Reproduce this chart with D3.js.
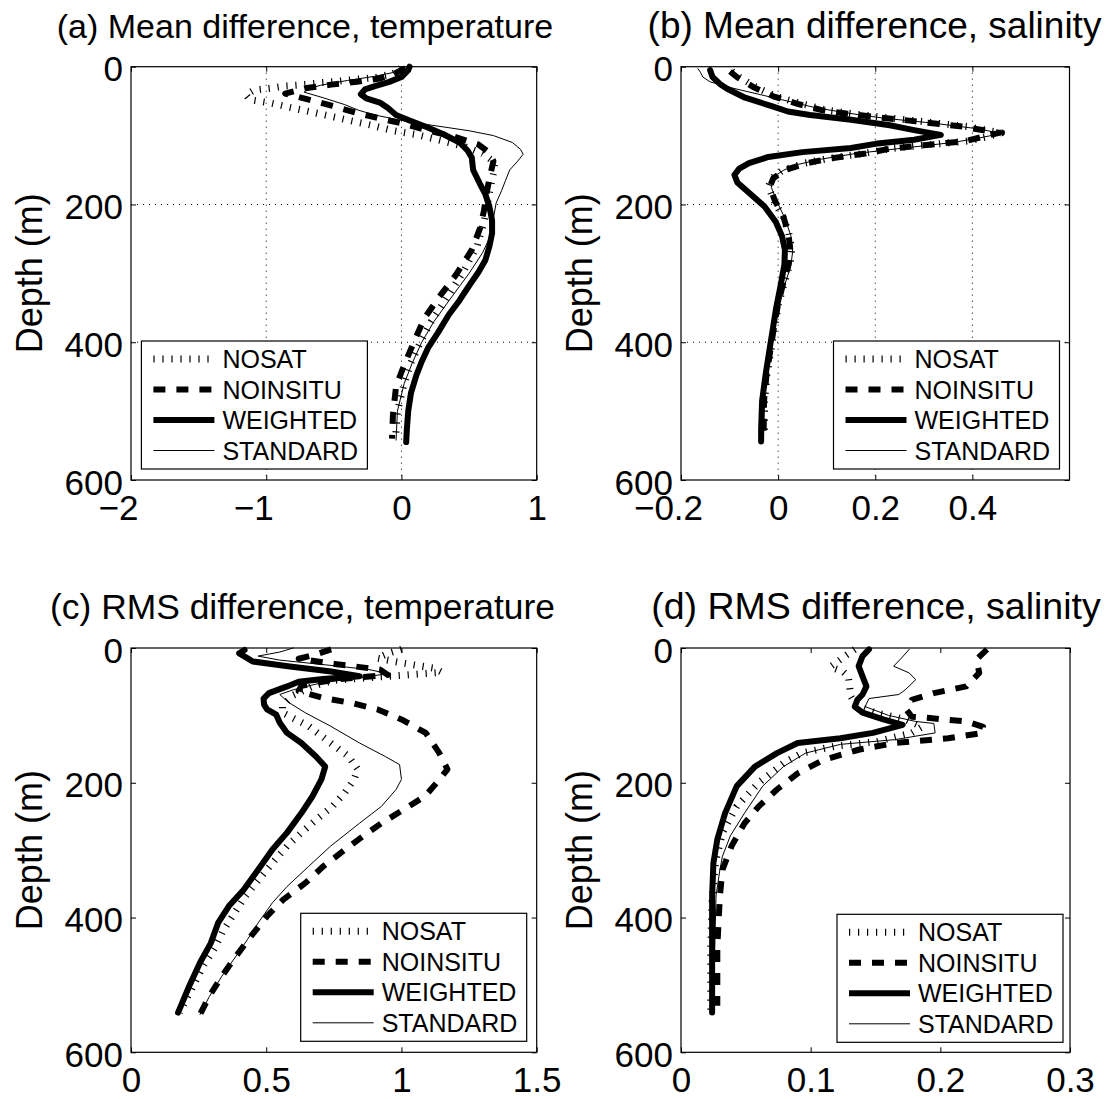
<!DOCTYPE html>
<html>
<head>
<meta charset="utf-8">
<script src="https://cdn.jsdelivr.net/npm/d3@7"></script>
<style>
  html, body { margin: 0; padding: 0; background: #fff; }
  svg { display: block; font-family: "Liberation Sans", Arial, Helvetica, sans-serif; }
</style>
</head>
<body>
<svg id="fig" width="1115" height="1099"></svg>
<script>
// ---- series names (plot / legend order) ----
const seriesNames = ["NOSAT", "NOINSITU", "WEIGHTED", "STANDARD"];

// ---- tick values ----
const depthTicks = [0, 200, 400, 600];
const meanTempTicks = [-2, -1, 0, 1];
const meanSaltTicks = [-0.2, 0, 0.2, 0.4];
const rmsTempTicks = [0, 0.5, 1, 1.5];
const rmsSaltTicks = [0, 0.1, 0.2, 0.3];

// ---- (a) mean difference, temperature : [depth (m), value] ----
const meanTempNosat = [[1,0.0],[4,-0.01],[10,-0.06],[16,-0.2],[18,-0.33],[21,-0.46],[23,-0.59],[26,-0.72],[28,-0.86],[31,-0.96],[34,-1.09],[41,-1.15],[48,-1.12],[53,-0.96],[61,-0.78],[69,-0.59],[77,-0.41],[85,-0.22],[93,-0.06],[99,0.12],[108,0.31],[116,0.47],[126,0.6],[139,0.69],[155,0.68],[173,0.66],[194,0.64],[225,0.61],[260,0.56],[300,0.45],[340,0.32],[370,0.22],[400,0.14],[430,0.07],[460,0.02],[500,-0.03],[542,-0.045]];
const meanTempNoinsitu = [[2,0.03],[10,-0.05],[17,-0.16],[22,-0.33],[26,-0.52],[31,-0.7],[39,-0.86],[47,-0.7],[57,-0.51],[67,-0.33],[76,-0.14],[84,0.04],[93,0.2],[101,0.38],[113,0.57],[125,0.65],[137,0.68],[163,0.65],[183,0.63],[209,0.61],[235,0.58],[266,0.52],[303,0.4],[334,0.28],[365,0.17],[396,0.1],[433,0.02],[464,-0.04],[505,-0.063],[540,-0.07]];
const meanTempWeighted = [[0,0.06],[5,0.05],[15,0.0],[22,-0.09],[28,-0.19],[33,-0.27],[40,-0.3],[46,-0.26],[52,-0.16],[60,-0.1],[70,-0.04],[78,0.06],[88,0.19],[98,0.31],[110,0.43],[122,0.49],[132,0.52],[150,0.53],[170,0.58],[185,0.62],[203,0.65],[223,0.67],[242,0.67],[261,0.65],[281,0.62],[298,0.57],[318,0.5],[339,0.43],[360,0.35],[386,0.27],[407,0.2],[428,0.15],[448,0.11],[474,0.07],[500,0.05],[526,0.04],[545,0.035]];
const meanTempStandard = [[2,0.03],[8,-0.05],[14,-0.2],[20,-0.4],[27,-0.6],[33,-0.7],[37,-0.72],[45,-0.58],[55,-0.42],[63,-0.32],[70,-0.2],[76,-0.05],[82,0.12],[88,0.33],[93,0.5],[100,0.68],[110,0.82],[120,0.88],[127,0.9],[137,0.86],[150,0.8],[165,0.77],[180,0.74],[198,0.7],[220,0.68],[245,0.66],[270,0.6],[300,0.5],[340,0.35],[370,0.24],[400,0.15],[430,0.08],[460,0.02],[500,-0.03],[542,-0.04]];

// ---- (b) mean difference, salinity ----
const meanSaltNosat = [[7,-0.095],[15,-0.08],[30,-0.045],[43,-0.005],[54,0.05],[63,0.1],[68,0.15],[73,0.21],[79,0.29],[87,0.39],[96,0.46],[102,0.43],[108,0.39],[114,0.3],[119,0.23],[126,0.175],[133,0.105],[140,0.055],[150,0.01],[162,-0.013],[174,-0.02],[194,-0.009],[218,0.01],[242,0.022],[265,0.028],[285,0.025],[310,0.014],[344,0.001],[380,-0.008],[412,-0.015],[448,-0.023],[485,-0.028],[537,-0.028]];
const meanSaltNoinsitu = [[7,-0.099],[15,-0.085],[30,-0.05],[43,-0.01],[54,0.04],[63,0.09],[68,0.14],[73,0.2],[79,0.28],[87,0.38],[96,0.455],[102,0.42],[108,0.386],[114,0.3],[119,0.23],[126,0.18],[133,0.11],[140,0.059],[150,0.014],[162,-0.01],[174,-0.017],[194,-0.007],[218,0.011],[242,0.021],[265,0.025],[285,0.022],[310,0.012],[344,0.0],[380,-0.009],[412,-0.016],[448,-0.024],[485,-0.029],[537,-0.03]];
const meanSaltWeighted = [[5,-0.14],[15,-0.135],[25,-0.12],[32,-0.105],[45,-0.068],[58,-0.01],[65,0.02],[70,0.066],[77,0.15],[85,0.23],[92,0.28],[99,0.335],[106,0.28],[112,0.2],[118,0.15],[124,0.05],[131,-0.02],[140,-0.06],[148,-0.08],[157,-0.09],[168,-0.084],[183,-0.06],[203,-0.028],[225,-0.005],[246,0.008],[266,0.014],[287,0.013],[318,0.005],[350,-0.004],[381,-0.011],[412,-0.018],[448,-0.026],[485,-0.033],[526,-0.035],[544,-0.035]];
const meanSaltStandard = [[3,-0.165],[8,-0.16],[15,-0.155],[22,-0.14],[30,-0.1],[40,-0.04],[50,0.02],[60,0.08],[68,0.15],[75,0.22],[82,0.32],[90,0.41],[97,0.46],[104,0.41],[110,0.36],[118,0.26],[126,0.16],[134,0.09],[142,0.04],[150,0.012],[160,-0.01],[175,-0.014],[195,-0.003],[220,0.014],[245,0.026],[268,0.03],[290,0.026],[320,0.012],[350,0.002],[380,-0.008],[412,-0.016],[448,-0.024],[485,-0.029],[537,-0.03]];

// ---- (c) RMS difference, temperature ----
const rmsTempNosat = [[2,1.0],[8,0.95],[15,0.91],[22,1.0],[30,1.12],[36,1.15],[42,0.95],[48,0.75],[57,0.67],[70,0.6],[85,0.56],[96,0.56],[116,0.657],[141,0.738],[161,0.805],[180,0.838],[195,0.825],[215,0.79],[235,0.745],[255,0.684],[274,0.63],[294,0.577],[319,0.523],[345,0.47],[370,0.42],[395,0.38],[420,0.34],[445,0.31],[470,0.27],[505,0.225],[541,0.18]];
const rmsTempNoinsitu = [[2,0.74],[10,0.68],[16,0.62],[24,0.76],[32,0.92],[40,0.95],[47,0.75],[56,0.63],[64,0.62],[74,0.71],[82,0.82],[91,0.91],[106,1.0],[126,1.09],[156,1.14],[180,1.17],[200,1.13],[220,1.087],[240,1.007],[260,0.926],[279,0.859],[299,0.792],[324,0.711],[349,0.644],[373,0.564],[398,0.503],[428,0.443],[457,0.389],[487,0.336],[517,0.289],[544,0.255]];
const rmsTempWeighted = [[3,0.42],[8,0.4],[15,0.43],[20,0.45],[27,0.58],[35,0.74],[42,0.845],[46,0.71],[50,0.62],[57,0.577],[67,0.51],[75,0.49],[84,0.492],[91,0.503],[99,0.537],[111,0.55],[126,0.577],[141,0.63],[161,0.684],[176,0.718],[195,0.704],[220,0.671],[245,0.63],[274,0.577],[299,0.523],[329,0.47],[359,0.416],[383,0.362],[408,0.322],[438,0.295],[467,0.255],[502,0.215],[541,0.174]];
const rmsTempStandard = [[0,0.6],[6,0.55],[12,0.47],[18,0.55],[25,0.72],[32,0.88],[38,0.95],[44,0.85],[52,0.7],[62,0.6],[69,0.55],[80,0.58],[96,0.644],[116,0.738],[141,0.845],[161,0.94],[173,0.993],[195,1.0],[210,0.98],[235,0.926],[260,0.845],[294,0.738],[324,0.657],[354,0.577],[378,0.523],[408,0.47],[433,0.43],[457,0.389],[487,0.336],[517,0.29],[544,0.255]];

// ---- (d) RMS difference, salinity ----
const rmsSaltNosat = [[2,0.134],[10,0.128],[17,0.123],[28,0.115],[35,0.125],[42,0.129],[57,0.13],[72,0.131],[85,0.135],[96,0.15],[106,0.173],[117,0.186],[126,0.178],[139,0.151],[146,0.118],[156,0.093],[171,0.079],[200,0.06],[235,0.043],[274,0.032],[314,0.027],[368,0.024],[443,0.023],[541,0.023]];
const rmsSaltNoinsitu = [[2,0.236],[17,0.228],[37,0.23],[57,0.22],[67,0.195],[77,0.178],[92,0.174],[102,0.178],[104,0.192],[109,0.22],[117,0.233],[126,0.233],[134,0.206],[141,0.165],[151,0.137],[166,0.11],[186,0.09],[210,0.074],[235,0.06],[260,0.049],[294,0.039],[329,0.032],[368,0.03],[443,0.028],[531,0.028]];
const rmsSaltWeighted = [[2,0.145],[12,0.14],[27,0.137],[42,0.14],[57,0.143],[69,0.14],[77,0.136],[87,0.134],[96,0.14],[106,0.156],[114,0.171],[126,0.148],[134,0.123],[141,0.09],[156,0.074],[176,0.057],[205,0.043],[245,0.034],[284,0.028],[319,0.025],[368,0.024],[443,0.024],[541,0.024]];
const rmsSaltStandard = [[2,0.176],[15,0.17],[27,0.164],[37,0.176],[47,0.181],[62,0.173],[69,0.168],[75,0.145],[87,0.142],[100,0.16],[109,0.181],[112,0.195],[126,0.196],[136,0.165],[143,0.123],[156,0.096],[176,0.079],[205,0.063],[245,0.049],[279,0.038],[309,0.032],[329,0.03],[368,0.027],[443,0.026],[541,0.025]];

// ---- line styles per series ----
const lineStyle = {
  NOSAT:    { width: 7, dash: "1.2,7.8" },
  NOINSITU: { width: 6, dash: "12,11" },
  WEIGHTED: { width: 6, dash: null },
  STANDARD: { width: 1, dash: null }
};

// ---- panel layout ----
const panels = [
  { title: "(a) Mean difference, temperature", titleX: 305, titleSize: 34, left: 131, right: 536.7, top: 66.7, bottom: 480,
    xDomain: [-2, 1], xTicks: meanTempTicks, grid: true, legendRight: 10, legendBottom: 11, legendLeftAnchor: true,
    series: [meanTempNosat, meanTempNoinsitu, meanTempWeighted, meanTempStandard] },
  { title: "(b) Mean difference, salinity", titleX: 874.5, titleSize: 37, left: 681, right: 1069.5, top: 66.7, bottom: 480,
    xDomain: [-0.2, 0.6], xTicks: meanSaltTicks, grid: true, legendRight: 10, legendBottom: 11,
    series: [meanSaltNosat, meanSaltNoinsitu, meanSaltWeighted, meanSaltStandard] },
  { title: "(c) RMS difference, temperature", titleX: 302.5, titleSize: 35.4, left: 131, right: 536.7, top: 648, bottom: 1052.3,
    xDomain: [0, 1.5], xTicks: rmsTempTicks, grid: false, legendRight: 10, legendBottom: 11,
    series: [rmsTempNosat, rmsTempNoinsitu, rmsTempWeighted, rmsTempStandard] },
  { title: "(d) RMS difference, salinity", titleX: 876, titleSize: 37.5, left: 681, right: 1070, top: 648, bottom: 1052.3,
    xDomain: [0, 0.3], xTicks: rmsSaltTicks, grid: false, legendRight: 7, legendBottom: 10,
    series: [rmsSaltNosat, rmsSaltNoinsitu, rmsSaltWeighted, rmsSaltStandard] }
];

const svg = d3.select("#fig");
svg.append("rect").attr("width", 1115).attr("height", 1099).attr("fill", "#fff");

const fmt = v => (v < 0 ? "\u2212" + Math.abs(v) : String(v));
const TICK_FONT = 35, LABEL_FONT = 36, LEGEND_FONT = 25;

function applyStyle(sel, name) {
  const st = lineStyle[name];
  sel.attr("fill", "none").attr("stroke", "#000").attr("stroke-width", st.width)
     .attr("stroke-linejoin", "round")
     .attr("stroke-linecap", st.dash ? "butt" : "round");
  if (st.dash) sel.attr("stroke-dasharray", st.dash);
}

function styleAxis(g) {
  g.attr("font-size", null).attr("font-family", null);
  g.select(".domain").remove();
  g.selectAll(".tick line").attr("stroke", "#000").attr("stroke-width", 1);
  g.selectAll(".tick text").attr("fill", "#000").style("font-size", TICK_FONT + "px");
}

panels.forEach(p => {
  const x = d3.scaleLinear().domain(p.xDomain).range([p.left, p.right]);
  const y = d3.scaleLinear().domain([0, 600]).range([p.top, p.bottom]);
  const g = svg.append("g");

  // dotted grid
  if (p.grid) {
    const gx = p.xTicks.filter(v => v > p.xDomain[0] && v < p.xDomain[1]);
    const gy = depthTicks.filter(v => v > 0 && v < 600);
    g.append("g").selectAll("line").data(gx).join("line")
      .attr("x1", d => x(d)).attr("x2", d => x(d)).attr("y1", p.top).attr("y2", p.bottom);
    g.append("g").selectAll("line").data(gy).join("line")
      .attr("x1", p.left).attr("x2", p.right).attr("y1", d => y(d)).attr("y2", d => y(d));
    g.selectAll("line").attr("stroke", "#000").attr("stroke-width", 1).attr("stroke-dasharray", "1,5");
  }

  // axes with inward ticks on all four sides
  const xb = g.append("g").attr("transform", `translate(0,${p.bottom})`)
    .call(d3.axisBottom(x).tickValues(p.xTicks).tickSize(-5).tickPadding(15).tickFormat(fmt))
    .call(styleAxis);
  // negative labels sit a little left of their tick
  xb.selectAll(".tick text").attr("dx", d => (d < 0 ? -13 : 0));
  g.append("g").attr("transform", `translate(0,${p.top})`)
    .call(d3.axisTop(x).tickValues(p.xTicks).tickSize(-5).tickFormat(""))
    .call(styleAxis);
  const yl = g.append("g").attr("transform", `translate(${p.left},0)`)
    .call(d3.axisLeft(y).tickValues(depthTicks).tickSize(-5).tickPadding(8).tickFormat(fmt))
    .call(styleAxis);
  yl.selectAll(".tick text").attr("dy", "0.4em");
  g.append("g").attr("transform", `translate(${p.right},0)`)
    .call(d3.axisRight(y).tickValues(depthTicks).tickSize(-5).tickFormat(""))
    .call(styleAxis);

  // profiles
  const line = d3.line().x(d => x(d[1])).y(d => y(d[0]));
  p.series.forEach((data, i) => {
    g.append("path").datum(data).attr("d", line).call(applyStyle, seriesNames[i]);
  });

  // plot box
  g.append("rect").attr("x", p.left).attr("y", p.top)
    .attr("width", p.right - p.left).attr("height", p.bottom - p.top)
    .attr("fill", "none").attr("stroke", "#000").attr("stroke-width", 1.2);

  // title
  svg.append("text").attr("x", p.titleX).attr("y", p.top - 29)
    .attr("text-anchor", "middle").style("font-size", p.titleSize + "px").text(p.title);

  // y label
  const cy = (p.top + p.bottom) / 2, lx = p.left - 89;
  svg.append("text").attr("transform", `translate(${lx},${cy}) rotate(-90)`)
    .attr("text-anchor", "middle").style("font-size", LABEL_FONT + "px").text("Depth (m)");

  // legend
  const lw = 226, lh = 128;
  const lgx = p.legendLeftAnchor ? p.left + 10.4 : p.right - p.legendRight - lw;
  const lgy = p.bottom - p.legendBottom - lh;
  const lg = g.append("g").attr("transform", `translate(${lgx},${lgy})`);
  lg.append("rect").attr("width", lw).attr("height", lh)
    .attr("fill", "#fff").attr("stroke", "#000").attr("stroke-width", 1.2);
  seriesNames.forEach((name, i) => {
    const ry = 18 + i * 30.5;
    lg.append("line").attr("x1", 12).attr("x2", 73).attr("y1", ry).attr("y2", ry).call(applyStyle, name)
      .attr("stroke-linecap", "butt");
    lg.append("text").attr("x", 81).attr("y", ry + 9)
      .style("font-size", LEGEND_FONT + "px").text(name);
  });
});
</script>
</body>
</html>
